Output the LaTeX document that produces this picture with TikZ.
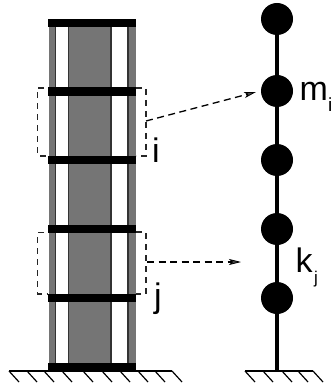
\documentclass[tikz,border=0pt]{standalone}
\usepackage{fontspec}
\setmainfont{Liberation Sans}
\usetikzlibrary{arrows.meta}
\tikzset{
  x=1pt,y=-1pt,
  floorbar/.style={fill=black,draw=none},
  graycol/.style={fill=black!54,draw=none},
  colline/.style={draw=black!80,line width=1.3pt},
  dashbox/.style={draw=black!85,line width=1.1pt,dash pattern=on 6pt off 5pt},
  dasharrow/.style={draw=black,line width=1.3pt,dash pattern=on 7pt off 4.5pt,-{Stealth[length=12pt,width=6pt,inset=3pt,fill=black!70,line width=0.8pt]}},
  massnode/.style={circle,fill=black,inner sep=0pt,minimum size=32pt},
  stem/.style={draw=black,line width=4pt},
  groundline/.style={draw=black,line width=1.3pt},
  hatchline/.style={draw=black,line width=1.2pt},
  lab/.style={font=\fontsize{34pt}{36pt}\selectfont,text=black,inner sep=0pt},
  sublabi/.style={font=\fontsize{19pt}{20pt}\selectfont,text=black,inner sep=0pt},
  sublabj/.style={font=\fontsize{17pt}{18pt}\selectfont,text=black,inner sep=0pt}
}
\begin{document}
\begin{tikzpicture}
\useasboundingbox (0,0) rectangle (332,387);
% columns
\fill[graycol] (48.5,27) rectangle (55.5,364);
\fill[graycol] (68.5,27) rectangle (111,364);
\fill[graycol] (128,27) rectangle (135.5,364);
\foreach \x in {55.5,68.5,111,128} \draw[colline] (\x,27) -- (\x,364);
% floors
\foreach \a/\b in {19/27,87/96,156/164.5,225/233,294/302,363/371}
  \fill[floorbar] (47.5,\a) rectangle (136,\b);
% ground
\coordinate (gl1) at (9,371); \coordinate (gr1) at (172,371);
\draw[groundline] (gl1) -- (gr1);
\foreach \x in {9,27,44,62,83,102,120,138,155,172}
  \draw[hatchline] (\x,371) -- (\x+10,382);
\coordinate (gl2) at (245,371); \coordinate (gr2) at (313,371);
\draw[groundline] (gl2) -- (gr2);
\foreach \x in {245,263,282,298,313}
  \draw[hatchline] (\x,371) -- (\x+10,382);
% dashed boxes
\draw[dashbox] (44,88) -- (37.5,88) -- (37.5,156) -- (46,156);
\draw[dashbox] (136,88) -- (146,88) -- (146,156) -- (136,156);
\draw[dashbox] (44,232.5) -- (37.5,232.5) -- (37.5,294) -- (47,294);
\draw[dashbox] (136,232) -- (146,232) -- (146,294) -- (136,294);
% SDOF model
\node[massnode] (m1) at (277,19) {};
\node[massnode] (m2) at (277,91) {};
\node[massnode] (m3) at (277,160) {};
\node[massnode] (m4) at (277,229) {};
\node[massnode] (m5) at (277,298) {};
\coordinate (base) at (277,371);
\draw[stem] (m1) -- (m2) -- (m3) -- (m4) -- (m5) -- (base);
% arrows
\coordinate (a1s) at (146,121); \coordinate (a1e) at (256,92);
\coordinate (a2s) at (147,262); \coordinate (a2e) at (241,262);
\draw[dasharrow] (a1s) -- (a1e);
\draw[dasharrow] (a2s) -- (a2e);
% labels
\node[lab,anchor=base] (li) at (156,163) {i};
\node[lab,anchor=base] (lj) at (158,307) {j};
\node[lab,anchor=base west] (lm) at (299.5,101) {m};
\node[sublabi,anchor=base west] (lmi) at (328,112) {i};
\node[lab,anchor=base west] (lk) at (295.5,272) {k};
\node[sublabj,anchor=base west] (lkj) at (314,283) {j};
\end{tikzpicture}
\end{document}
